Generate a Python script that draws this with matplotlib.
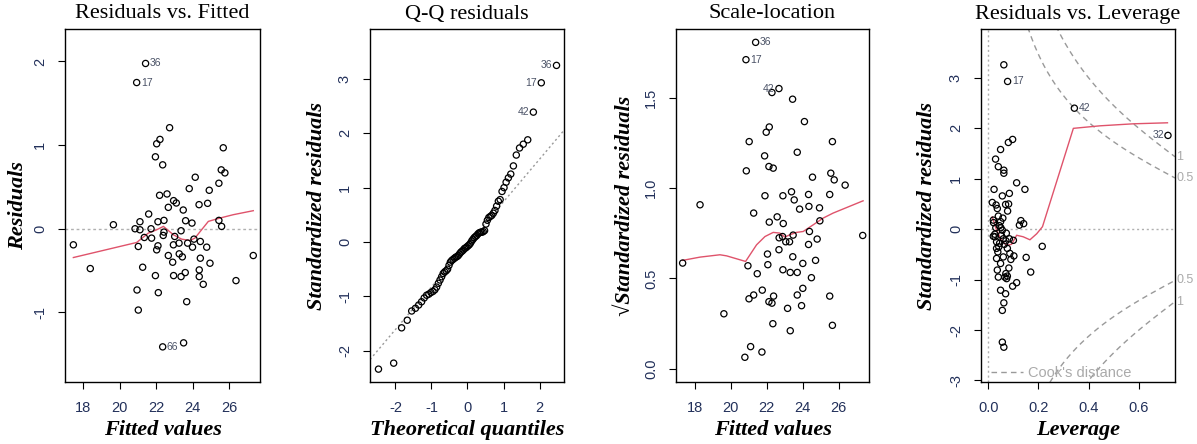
import matplotlib
matplotlib.use('Agg')
import matplotlib.pyplot as plt
import numpy as np
from statistics import NormalDist

# ---------------- data ----------------
# Panel 1: residuals vs fitted
fitted = [21.42, 20.93, 22.74, 22.21, 22.03, 25.69, 21.96, 22.36, 24.15, 25.58,
          25.78, 25.45, 23.82, 24.92, 22.60, 22.19, 22.96, 23.11, 24.36, 24.83,
          22.67, 23.49, 21.59, 19.65, 21.11, 22.10, 22.43, 23.62, 23.97, 25.45,
          25.60, 20.84, 21.11, 21.72, 22.43, 22.39, 23.37, 21.35, 21.75, 23.02,
          17.45, 21.02, 22.10, 22.03, 22.95, 23.26, 23.73, 24.00, 24.08, 24.43,
          24.78, 22.67, 22.91, 23.27, 23.44, 24.43, 27.34, 18.38, 21.26, 24.96,
          24.37, 24.37, 21.96, 22.96, 23.37, 23.60, 24.59, 26.39, 20.95, 22.12,
          23.68, 21.02, 22.36, 23.51]
resid = [1.976, 1.748, 1.208, 1.068, 1.016, 0.968, 0.860, 0.764, 0.616, 0.704,
         0.668, 0.544, 0.480, 0.460, 0.416, 0.400, 0.336, 0.308, 0.288, 0.304,
         0.256, 0.224, 0.176, 0.048, 0.084, 0.084, 0.100, 0.096, 0.068, 0.100,
         0.028, 0.000, -0.012, 0.000, -0.040, -0.080, -0.024, -0.104, -0.112, -0.092,
         -0.192, -0.212, -0.204, -0.252, -0.192, -0.172, -0.172, -0.220, -0.124, -0.152,
         -0.220, -0.320, -0.400, -0.300, -0.336, -0.352, -0.320, -0.476, -0.460, -0.412,
         -0.492, -0.572, -0.560, -0.560, -0.572, -0.524, -0.664, -0.620, -0.732, -0.764,
         -0.872, -0.972, -1.412, -1.364]
rf_labels = [(0, '36'), (1, '17'), (72, '66')]
rf_smooth_x = [17.45, 20.93, 21.57, 22.03, 22.40, 22.95, 23.40, 23.86, 24.13,
               24.50, 24.87, 25.51, 26.24, 27.34]
rf_smooth_y = [-0.344, -0.164, -0.052, -0.012, 0.028, -0.072, -0.124, -0.140, -0.112,
               -0.012, 0.088, 0.128, 0.168, 0.216]

# Panel 2: Q-Q of standardized residuals (sorted sample values)
qq_std_resid = [-2.34, -2.23, -1.58, -1.44, -1.27, -1.22, -1.16, -1.10, -1.03, -0.98,
                -0.96, -0.93, -0.91, -0.88, -0.83, -0.76, -0.70, -0.64, -0.58, -0.55,
                -0.53, -0.50, -0.43, -0.37, -0.34, -0.32, -0.30, -0.28, -0.27, -0.25,
                -0.22, -0.19, -0.17, -0.15, -0.12, -0.11, -0.09, -0.07, -0.05, -0.02,
                0.02, 0.05, 0.08, 0.10, 0.12, 0.15, 0.17, 0.18, 0.18, 0.19,
                0.21, 0.33, 0.40, 0.45, 0.47, 0.49, 0.53, 0.58, 0.66, 0.75,
                0.78, 0.93, 1.00, 1.10, 1.18, 1.25, 1.40, 1.60, 1.73, 1.80,
                1.88, 2.39, 2.93, 3.25]
qq_labels = [(73, '36'), (72, '17'), (71, '42')]

# Panel 3: scale-location
sl_fitted = [21.38, 20.84, 22.68, 22.29, 23.44, 24.10, 22.14, 21.97, 21.02, 25.66,
             23.70, 21.88, 22.12, 22.36, 20.86, 24.55, 25.57, 25.76, 26.37, 23.38,
             21.90, 22.90, 23.53, 24.33, 25.51, 23.83, 24.35, 24.94, 18.28, 21.27,
             22.58, 22.14, 22.92, 24.96, 22.69, 22.88, 23.06, 23.27, 23.47, 24.38,
             24.81, 27.35, 24.33, 22.68, 22.04, 23.45, 24.72, 17.31, 20.95, 22.06,
             24.01, 22.90, 23.31, 23.70, 21.47, 24.49, 21.75, 24.01, 21.01, 21.27,
             22.38, 23.70, 22.12, 22.29, 23.16, 23.94, 25.51, 19.61, 22.34, 23.31,
             25.66, 21.10, 20.78, 21.73]
sl_sqrt = [1.808, 1.712, 1.552, 1.530, 1.493, 1.369, 1.339, 1.310, 1.258, 1.258,
           1.199, 1.179, 1.120, 1.111, 1.096, 1.061, 1.083, 1.046, 1.017, 0.980,
           0.958, 0.958, 0.935, 0.965, 0.965, 0.884, 0.899, 0.891, 0.908, 0.862,
           0.841, 0.812, 0.804, 0.819, 0.725, 0.732, 0.703, 0.703, 0.740, 0.760,
           0.718, 0.738, 0.688, 0.659, 0.635, 0.620, 0.600, 0.585, 0.570, 0.576,
           0.583, 0.548, 0.533, 0.533, 0.526, 0.504, 0.435, 0.445, 0.387, 0.408,
           0.402, 0.408, 0.371, 0.363, 0.334, 0.349, 0.402, 0.304, 0.249, 0.210,
           0.240, 0.122, 0.063, 0.092]
sl_labels = [(0, '36', 'r'), (1, '17', 'r'), (2, '42', 'l')]
sl_smooth_x = [17.31, 18.28, 19.39, 19.76, 20.82, 21.43, 21.90, 22.36, 22.73, 23.01,
               23.29, 23.66, 24.03, 24.59, 25.14, 25.70, 27.37]
sl_smooth_y = [0.600, 0.618, 0.631, 0.625, 0.594, 0.686, 0.732, 0.755, 0.751, 0.729,
               0.742, 0.755, 0.760, 0.797, 0.834, 0.862, 0.930]

# Panel 4: residuals vs leverage
lev_h = [0.062, 0.077, 0.343, 0.716, 0.097, 0.080, 0.049, 0.029, 0.040, 0.062,
         0.062, 0.113, 0.023, 0.146, 0.056, 0.084, 0.016, 0.031, 0.036, 0.069,
         0.081, 0.077, 0.040, 0.020, 0.021, 0.049, 0.044, 0.130, 0.124, 0.141,
         0.050, 0.056, 0.020, 0.027, 0.033, 0.042, 0.033, 0.060, 0.070, 0.076,
         0.084, 0.100, 0.086, 0.102, 0.060, 0.033, 0.049, 0.151, 0.169, 0.215,
         0.036, 0.082, 0.070, 0.076, 0.040, 0.073, 0.113, 0.097, 0.049, 0.069,
         0.062, 0.056, 0.056, 0.062, 0.026, 0.045, 0.052, 0.064, 0.072, 0.030,
         0.058, 0.090, 0.038, 0.066]
lev_r = [3.26, 2.93, 2.40, 1.86, 1.78, 1.72, 1.58, 1.39, 1.24, 1.17,
         1.11, 0.92, 0.79, 0.79, 0.66, 0.71, 0.53, 0.48, 0.41, 0.49,
         0.50, 0.36, 0.26, 0.18, 0.13, 0.15, 0.07, 0.17, 0.08, 0.11,
         0.03, -0.02, -0.14, -0.15, -0.25, -0.35, -0.38, -0.19, -0.23, -0.38,
         -0.19, -0.22, -0.48, -0.53, -0.55, -0.58, -0.68, -0.56, -0.85, -0.34,
         -0.81, -0.77, -0.88, -0.93, -0.95, -0.98, -1.06, -1.13, -1.21, -1.28,
         -1.46, -1.61, -2.24, -2.34, -0.10, -0.28, -0.12, -0.30, -0.08, 0.03,
         0.22, -0.60, -0.45, -0.95]
lev_labels = [(1, '17', 'r'), (2, '42', 'r'), (3, '32', 'l')]
lev_smooth_x = [0.016, 0.033, 0.053, 0.073, 0.093, 0.113, 0.139, 0.166, 0.193, 0.216,
                0.339, 0.445, 0.578, 0.714]
lev_smooth_y = [0.245, -0.02, -0.22, -0.32, -0.30, -0.12, -0.15, -0.21, -0.09, 0.05,
                2.00, 2.05, 2.09, 2.11]
cook_levels = [0.5, 1.0]
n_params = 6

# ---------------- style ----------------
SERIF = 'Liberation Serif'
SANS = 'Liberation Sans'
TICKC = '#22305a'
LABC = '#4a5266'
RED = '#DF536B'
GRAY = '#9a9a9a'

fig = plt.figure(figsize=(11.97, 4.44), dpi=100)
W, H = 1197, 444
boxes = [(65, 195), (370, 194), (676, 193), (981, 194)]
top, bot = 29, 382
axes = []
for (x0, w) in boxes:
    ax = fig.add_axes([x0 / W, 1 - bot / H, w / W, (bot - top) / H])
    axes.append(ax)


def style(ax, title, xlabel, ylabel, xticks, xtl, yticks, ytl, ylab_x):
    for s in ax.spines.values():
        s.set_linewidth(1.0)
        s.set_color('black')
    ax.set_xticks(xticks, labels=xtl, fontsize=10.5, family=SANS, color=TICKC)
    ax.set_yticks(yticks, labels=ytl, fontsize=10.5, family=SANS, color=TICKC,
                  rotation=90, va='center')
    ax.tick_params(axis='both', direction='out', length=5, width=0.8)
    ax.tick_params(axis='x', pad=9)
    ax.tick_params(axis='y', pad=8)
    ax.text(0.5, 1 + 15 / 353, title, transform=ax.transAxes, ha='center', va='center',
            fontsize=16, family=SERIF)
    ax.set_xlabel(xlabel, fontsize=16, family=SERIF, style='italic', weight='bold',
                  va='center')
    ax.xaxis.set_label_coords(0.5, -48 / 353)
    ax.set_ylabel(ylabel, fontsize=16, family=SERIF, style='italic', weight='bold',
                  va='center')
    ax.yaxis.set_label_coords(ylab_x, 0.5)


def pts(ax, x, y):
    ax.scatter(x, y, s=20, facecolors='none', edgecolors='black', linewidths=0.9, zorder=3)


def lab(ax, x, y, t, side):
    if side == 'r':
        ax.annotate(t, (x, y), xytext=(3, 0), textcoords='offset points', ha='left',
                    va='center', fontsize=7.5, family=SANS, color=LABC)
    else:
        ax.annotate(t, (x, y), xytext=(-3, 0), textcoords='offset points', ha='right',
                    va='center', fontsize=7.5, family=SANS, color=LABC)


# Panel 1
ax = axes[0]
ax.axhline(0, color='#b0b0b0', lw=1.0, ls=(0, (2, 2)), zorder=1)
pts(ax, fitted, resid)
ax.plot(rf_smooth_x, rf_smooth_y, color=RED, lw=1.0, zorder=2)
for i, t in rf_labels:
    lab(ax, fitted[i], resid[i], t, 'r')
ax.set_xlim(16.99, 27.71)
ax.set_ylim(-1.832, 2.388)
style(ax, 'Residuals vs. Fitted', 'Fitted values', 'Residuals',
      [18, 20, 22, 24, 26], ['18', '20', '22', '24', '26'],
      [-1, 0, 1, 2], ['-1', '0', '1', '2'], -47 / 195)

# Panel 2
ax = axes[1]
n = len(qq_std_resid)
a = 0.5 if n > 10 else 3 / 8
nd = NormalDist()
theo = [nd.inv_cdf((i + 1 - a) / (n + 1 - 2 * a)) for i in range(n)]
q1, q3 = np.quantile(qq_std_resid, [0.25, 0.75])
z1, z3 = nd.inv_cdf(0.25), nd.inv_cdf(0.75)
slope = (q3 - q1) / (z3 - z1)
inter = q1 - slope * z1
ax.axline((0, inter), slope=slope, color=GRAY, lw=1.0, ls=(0, (1.5, 2)), zorder=1)
pts(ax, theo, qq_std_resid)
for i, t in qq_labels:
    lab(ax, theo[i], qq_std_resid[i], t, 'l')
ax.set_xlim(-2.705, 2.678)
ax.set_ylim(-2.577, 3.92)
style(ax, 'Q-Q residuals', 'Theoretical quantiles', 'Standardized residuals',
      [-2, -1, 0, 1, 2], ['-2', '-1', '0', '1', '2'],
      [-2, -1, 0, 1, 2, 3], ['-2', '-1', '0', '1', '2', '3'], -53 / 194)

# Panel 3
ax = axes[2]
pts(ax, sl_fitted, sl_sqrt)
ax.plot(sl_smooth_x, sl_smooth_y, color=RED, lw=1.0, zorder=2)
for i, t, sd in sl_labels:
    lab(ax, sl_fitted[i], sl_sqrt[i], t, sd)
ax.set_xlim(16.94, 27.70)
ax.set_ylim(-0.074, 1.882)
style(ax, 'Scale-location', 'Fitted values', '\u221aStandardized residuals',
      [18, 20, 22, 24, 26], ['18', '20', '22', '24', '26'],
      [0, 0.5, 1.0, 1.5], ['0.0', '0.5', '1.0', '1.5'], -51 / 193)
ax.yaxis.label.set_family(['Liberation Serif', 'DejaVu Serif'])

# Panel 4
ax = axes[3]
xl = (-0.029, 0.744)
yl = (-3.03, 3.97)
ax.axhline(0, color='#b0b0b0', lw=1.0, ls=(0, (1.5, 2)), zorder=1)
ax.axvline(0, color='#b0b0b0', lw=1.0, ls=(0, (1.5, 2)), zorder=1)
hh = np.linspace(0.005, xl[1], 300)
for lvl in cook_levels:
    rr = np.sqrt(lvl * n_params * (1 - hh) / hh)
    for sg in (1, -1):
        ax.plot(hh, sg * rr, color=GRAY, lw=1.0, ls=(0, (4, 3)), zorder=1)
        ax.text(xl[1] + 0.006, sg * np.sqrt(lvl * n_params * (1 - xl[1]) / xl[1]),
                ('%g' % lvl), ha='left', va='center', fontsize=9, family=SANS,
                color='#aaaaaa', clip_on=False)
pts(ax, lev_h, lev_r)
ax.plot(lev_smooth_x, lev_smooth_y, color=RED, lw=1.0, zorder=2)
for i, t, sd in lev_labels:
    lab(ax, lev_h[i], lev_r[i], t, sd)
ax.set_xlim(*xl)
ax.set_ylim(*yl)
h_leg, = ax.plot([], [], color=GRAY, lw=1.0, ls=(0, (4, 3)))
leg = ax.legend([h_leg], ["Cook's distance"], loc='lower left', frameon=False,
                handlelength=2.2, handletextpad=0.3,
                bbox_to_anchor=(8 / 194, 0.0), borderaxespad=0.0, borderpad=0.15,
                prop={'family': SANS, 'size': 10.5})
for txt in leg.get_texts():
    txt.set_color('#aaaaaa')
style(ax, 'Residuals vs. Leverage', 'Leverage', 'Standardized residuals',
      [0.0, 0.2, 0.4, 0.6], ['0.0', '0.2', '0.4', '0.6'],
      [-3, -2, -1, 0, 1, 2, 3], ['-3', '-2', '-1', '0', '1', '2', '3'], -54 / 194)

fig.savefig('out.png', dpi=100)
